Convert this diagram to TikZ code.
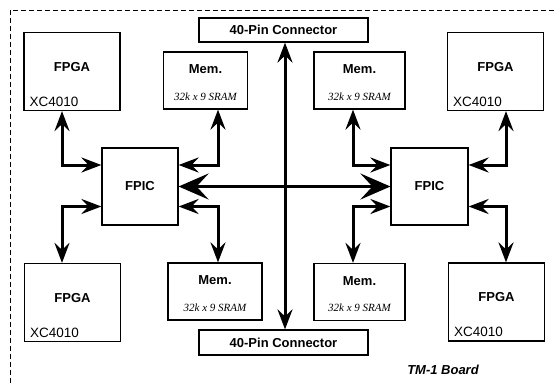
\documentclass[tikz,border=0pt]{standalone}
\usepackage{fontspec}
\setmainfont{Liberation Serif}
\setsansfont{Liberation Sans}
\usetikzlibrary{arrows.meta,calc}

\begin{document}
\begin{tikzpicture}[x=1pt, y=-1pt,
    blk/.style={draw, line width=1.2pt, inner sep=0pt},
    ttl/.style={font=\sffamily\bfseries\fontsize{13}{15}\selectfont, inner sep=0pt},
    sub/.style={font=\sffamily\fontsize{13.5}{15}\selectfont, inner sep=0pt},
    ram/.style={font=\itshape\fontsize{11}{13}\selectfont, inner sep=0pt},
    bus/.style={line width=3pt,
        {Stealth[length=20pt,width=15pt,inset=7pt]}-{Stealth[length=20pt,width=15pt,inset=7pt]}},
    mainbus/.style={line width=3.2pt,
        {Stealth[length=30pt,width=26pt,inset=12pt]}-{Stealth[length=30pt,width=26pt,inset=12pt]}}]

    \useasboundingbox (0,0) rectangle (556,383);

    % 外枠
    \draw[line width=1pt, dash pattern=on 5pt off 3pt] (10,383) -- (10,10) -- (556,10);

    % FPGA
    \foreach \n/\x/\y in {fpgaTL/72/71.5, fpgaTR/495.5/71.5, fpgaBL/72.5/302.5, fpgaBR/496.5/302} {
        \node[blk, minimum width=96pt, minimum height=78pt] (\n) at (\x,\y) {};
        \node[ttl] (\n-t) at ([yshift=4.5pt]\n.center) {FPGA};
        \node[sub, anchor=base west] (\n-s) at ([shift={(6pt,5pt)}]\n.south west) {XC4010};
    }

    % メモリ
    \foreach \n/\x/\y/\w in {memTL/205.5/80.5/84, memTR/359.5/80.5/91, memBL/215/291.5/94, memBR/359.5/292/91} {
        \node[blk, minimum width=\w pt, minimum height=57pt] (\n) at (\x,\y) {};
        \node[ttl] (\n-t) at ([yshift=11pt]\n.center) {Mem.};
        \node[ram] (\n-s) at ([yshift=-16pt]\n.center) {32k x 9 SRAM};
    }

    % FPIC
    \node[blk, ttl, minimum width=76pt, minimum height=77pt] (fpicL) at (140,186.5) {FPIC};
    \node[blk, ttl, minimum width=77pt, minimum height=77pt] (fpicR) at (429.5,186.5) {FPIC};

    % コネクタ
    \node[blk, ttl, minimum width=169pt, minimum height=24pt] (connT) at (283.5,30) {40-Pin Connector};
    \node[blk, ttl, minimum width=169pt, minimum height=25pt] (connB) at (283.5,342.5) {40-Pin Connector};

    % バス
    \draw[bus] ([xshift=1.5pt]connT.south) -- ([xshift=1.5pt]connB.north);
    \draw[mainbus] (fpicL.east) -- (fpicR.west);

    % 左側の配線
    \draw[bus] ([yshift=21.5pt]fpicL.west) -| ([xshift=-10pt]fpgaTL.south);
    \draw[bus] ([yshift=21.5pt]fpicL.east) -| ([xshift=12.5pt]memTL.south);
    \draw[bus] ([yshift=-20pt]fpicL.west) -| ([xshift=-10.5pt]fpgaBL.north);
    \draw[bus] ([yshift=-20pt]fpicL.east) -| ([xshift=3pt]memBL.north);

    % 右側の配線
    \draw[bus] ([yshift=21.5pt]fpicR.west) -| ([xshift=-6.5pt]memTR.south);
    \draw[bus] ([yshift=21.5pt]fpicR.east) -| ([xshift=10.5pt]fpgaTR.south);
    \draw[bus] ([yshift=-20pt]fpicR.west) -| ([xshift=-6.5pt]memBR.north);
    \draw[bus] ([yshift=-20pt]fpicR.east) -| ([xshift=9.5pt]fpgaBR.north);

    % ボード名
    \node[font=\sffamily\bfseries\itshape\fontsize{13}{15}\selectfont] (board) at (443,370) {TM-1 Board};

\end{tikzpicture}
\end{document}
